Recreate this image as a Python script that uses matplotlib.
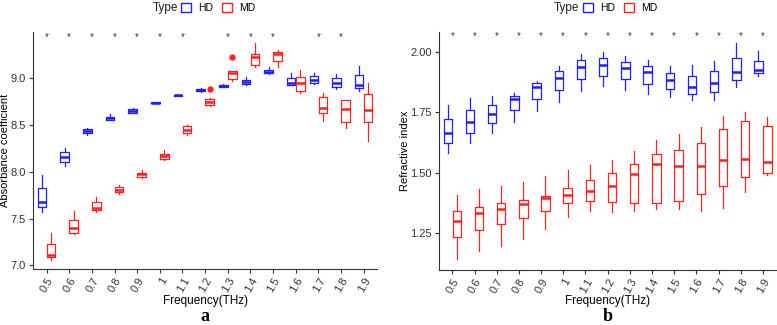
import matplotlib
matplotlib.use("Agg")
import matplotlib.pyplot as plt
from matplotlib.patches import Patch
import numpy as np

plt.rcParams["font.family"] = ["Liberation Sans", "DejaVu Sans"]

freqs = ["0.5", "0.6", "0.7", "0.8", "0.9", "1", "1.1", "1.2", "1.3", "1.4",
         "1.5", "1.6", "1.7", "1.8", "1.9"]

# panel a - absorbance coefficient (box stats)
abs_hd_hi = [7.97, 8.248, 8.465, 8.613, 8.684, 8.742, 8.82, 8.894, 8.936, 9.007, 9.113, 9.057, 9.05, 9.043, 9.131]
abs_hd_q3 = [7.826, 8.206, 8.454, 8.589, 8.67, 8.740, 8.818, 8.883, 8.929, 8.979, 9.089, 9.0, 9.018, 8.996, 9.035]
abs_hd_med = [7.68, 8.153, 8.436, 8.571, 8.652, 8.738, 8.816, 8.869, 8.915, 8.957, 9.067, 8.947, 8.979, 8.947, 8.929]
abs_hd_q1 = [7.624, 8.106, 8.411, 8.553, 8.631, 8.736, 8.813, 8.858, 8.904, 8.936, 9.05, 8.929, 8.95, 8.908, 8.89]
abs_hd_lo = [7.575, 8.064, 8.387, 8.55, 8.624, 8.734, 8.811, 8.855, 8.9, 8.926, 9.043, 8.926, 8.936, 8.879, 8.858]

abs_md_hi = [7.348, 7.585, 7.73, 7.858, 8.018, 8.234, 8.5, 8.784, 9.078, 9.379, 9.298, 9.082, 8.844, 8.766, 8.943]
abs_md_q3 = [7.23, 7.479, 7.68, 7.833, 7.99, 8.188, 8.486, 8.773, 9.071, 9.255, 9.28, 9.011, 8.798, 8.766, 8.833]
abs_md_med = [7.11, 7.394, 7.617, 7.808, 7.972, 8.167, 8.447, 8.745, 9.057, 9.22, 9.262, 8.95, 8.677, 8.667, 8.66]
abs_md_q1 = [7.085, 7.344, 7.592, 7.784, 7.94, 8.135, 8.411, 8.716, 8.989, 9.142, 9.184, 8.858, 8.624, 8.532, 8.532]
abs_md_lo = [7.06, 7.33, 7.574, 7.759, 7.933, 8.124, 8.39, 8.699, 8.965, 9.12, 9.113, 8.837, 8.543, 8.468, 8.333]
abs_md_out = {7: [8.883], 8: [9.23]}
abs_stars = ["*", "*", "*", "*", "*", "*", "*", "", "*", "*", "*", "", "*", "*", ""]

# panel b - refractive index
ri_hd_hi = [1.779, 1.81, 1.818, 1.83, 1.881, 1.943, 1.993, 2.0, 1.986, 1.968, 1.943, 1.948, 1.964, 2.039, 2.006]
ri_hd_q3 = [1.724, 1.761, 1.782, 1.818, 1.87, 1.92, 1.966, 1.975, 1.961, 1.943, 1.914, 1.901, 1.92, 1.977, 1.964]
ri_hd_med = [1.666, 1.71, 1.745, 1.807, 1.857, 1.894, 1.937, 1.948, 1.935, 1.919, 1.884, 1.854, 1.873, 1.917, 1.925]
ri_hd_q1 = [1.622, 1.665, 1.705, 1.759, 1.805, 1.844, 1.887, 1.899, 1.888, 1.869, 1.848, 1.826, 1.834, 1.885, 1.912]
ri_hd_lo = [1.579, 1.621, 1.666, 1.71, 1.756, 1.794, 1.837, 1.858, 1.844, 1.826, 1.814, 1.803, 1.8, 1.854, 1.901]

ri_md_hi = [1.407, 1.43, 1.444, 1.461, 1.484, 1.509, 1.531, 1.552, 1.589, 1.634, 1.662, 1.69, 1.734, 1.752, 1.73]
ri_md_q3 = [1.339, 1.358, 1.372, 1.387, 1.403, 1.434, 1.467, 1.496, 1.534, 1.575, 1.594, 1.621, 1.679, 1.712, 1.695]
ri_md_med = [1.30, 1.331, 1.349, 1.368, 1.394, 1.405, 1.425, 1.445, 1.492, 1.535, 1.528, 1.528, 1.552, 1.557, 1.542]
ri_md_q1 = [1.23, 1.263, 1.285, 1.31, 1.34, 1.372, 1.382, 1.379, 1.372, 1.372, 1.383, 1.411, 1.444, 1.483, 1.496]
ri_md_lo = [1.14, 1.174, 1.193, 1.222, 1.267, 1.316, 1.34, 1.334, 1.339, 1.35, 1.347, 1.339, 1.352, 1.418, 1.489]
ri_stars = ["*"] * 15

HD_COL = "#1f1fff"
MD_COL = "#ff2020"
W, H = 777, 325


def make_stats(lo, q1, med, q3, hi, outl=None):
    stats = []
    for i in range(len(lo)):
        fl = outl.get(i, []) if outl else []
        stats.append(dict(whislo=lo[i], q1=q1[i], med=med[i], q3=q3[i], whishi=hi[i], fliers=fl))
    return stats


def draw_boxes(ax, stats, pos, col):
    ax.bxp(stats, positions=pos, widths=0.38, showfliers=True, patch_artist=False,
           boxprops=dict(color=col, linewidth=0.9),
           whiskerprops=dict(color=col, linewidth=0.9),
           capprops=dict(linewidth=0),
           medianprops=dict(color=col, linewidth=1.8),
           flierprops=dict(marker="o", markersize=3.5, markerfacecolor=col, markeredgecolor=col))


def panel(ax, hd, md, stars, star_y, ylab, ylab_x, yticks, ylabels, ylim, letter, md_out=None):
    x = np.arange(len(freqs))
    draw_boxes(ax, make_stats(*hd), x - 0.2, HD_COL)
    draw_boxes(ax, make_stats(*md, md_out), x + 0.2, MD_COL)
    for i, s in enumerate(stars):
        if s:
            ax.text(x[i], star_y, s, ha="center", va="center", fontsize=7, color="#333333")
    ax.set_xlim(-0.6, len(freqs) - 0.4)
    ax.set_ylim(*ylim)
    ax.set_xticks(x)
    ax.set_xticklabels(freqs, rotation=60, ha="right", rotation_mode="anchor", fontsize=8, color="#333333")
    ax.set_yticks(yticks)
    ax.set_yticklabels(ylabels, fontsize=8, color="#333333")
    ax.spines["top"].set_visible(False)
    ax.spines["right"].set_visible(False)
    ax.spines["left"].set_color("#333333")
    ax.spines["bottom"].set_color("#333333")
    ax.tick_params(length=3, color="#333333", pad=2)
    ax.set_xlabel("Frequency(THz)", fontsize=8.5)
    ax.xaxis.set_label_coords(0.5, -0.108)
    ax.set_ylabel(ylab, fontsize=8)
    ax.yaxis.set_label_coords(ylab_x, 0.5)
    ax.text(0.5, -0.198, letter, transform=ax.transAxes, ha="center", va="center",
            fontsize=13, fontweight="bold", family="Liberation Serif")


fig = plt.figure(figsize=(W / 100, H / 100), dpi=100)
ax1 = fig.add_axes([0.0425, 0.172, 0.443, 0.729])
ax2 = fig.add_axes([0.565, 0.170, 0.434, 0.731])

panel(ax1, (abs_hd_lo, abs_hd_q1, abs_hd_med, abs_hd_q3, abs_hd_hi),
      (abs_md_lo, abs_md_q1, abs_md_med, abs_md_q3, abs_md_hi), abs_stars, 9.44,
      "Absorbance coefficient", -0.067, [7.0, 7.5, 8.0, 8.5, 9.0], ["7.0", "7.5", "8.0", "8.5", "9.0"],
      (6.96, 9.49), "a", abs_md_out)
panel(ax2, (ri_hd_lo, ri_hd_q1, ri_hd_med, ri_hd_q3, ri_hd_hi),
      (ri_md_lo, ri_md_q1, ri_md_med, ri_md_q3, ri_md_hi), ri_stars, 2.065,
      "Refractive index", -0.085, [1.25, 1.5, 1.75, 2.0], ["1.25", "1.50", "1.75", "2.00"],
      (1.096, 2.083), "b")

# legends on top of each panel: "Type" title then the two entries
handles = [Patch(facecolor="white", edgecolor=HD_COL, label="HD"),
           Patch(facecolor="white", edgecolor=MD_COL, label="MD")]
for type_right, entries_left in [(178, 181), (579, 583)]:
    fig.text(type_right / W, 1 - 8 / H, "Type", ha="right", va="center", fontsize=8.5, color="#222222")
    fig.legend(handles=handles, ncol=2, loc="center left",
               bbox_to_anchor=(entries_left / W, 1 - 8 / H), frameon=False, fontsize=7.5,
               handlelength=1.0, handleheight=0.9, handletextpad=0.6, columnspacing=0.9,
               borderpad=0, borderaxespad=0)

fig.savefig("out.png", dpi=100)
